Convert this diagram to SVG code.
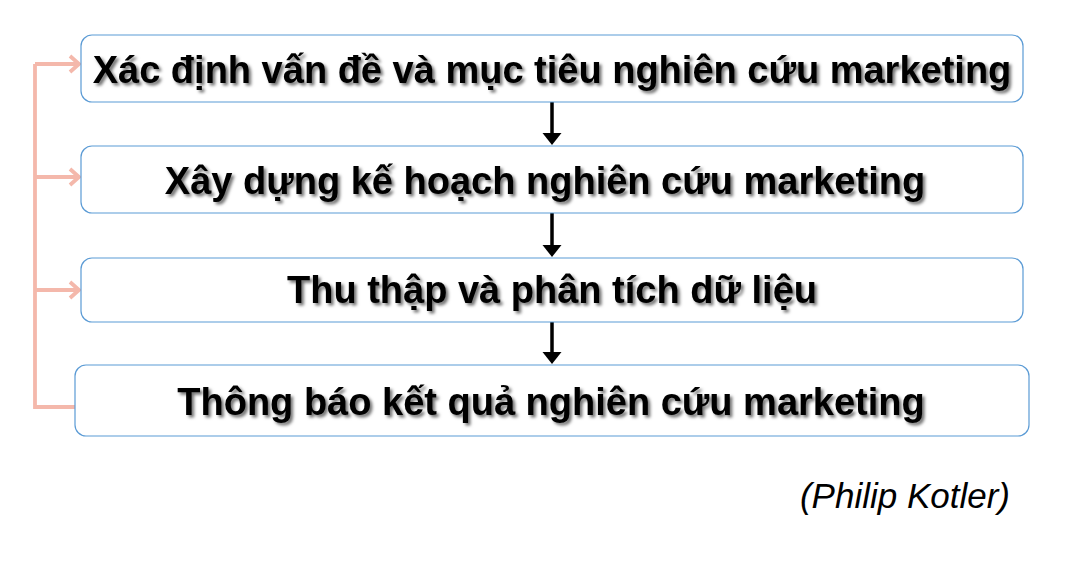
<svg xmlns="http://www.w3.org/2000/svg" width="1066" height="565" viewBox="0 0 1066 565">
<defs>
<filter id="sh" x="-5%" y="-30%" width="110%" height="160%">
<feDropShadow dx="2.5" dy="2.5" stdDeviation="1.5" flood-color="#000" flood-opacity="0.55"/>
</filter>
</defs>
<style>
.box{fill:#fff;stroke:#5B9BD5;stroke-width:1.2}
.t{font-family:"Liberation Sans",Arial,sans-serif;font-weight:bold;font-size:38px;fill:#000;text-anchor:middle}
.fb{fill:none;stroke:#F4B8AB;stroke-width:3.8}
.dn{stroke:#000;stroke-width:3.5;fill:none}
.hd{fill:#000}
</style>
<rect width="1066" height="565" fill="#fff"/>
<g id="connectors">
<path class="fb" d="M35,64 V407 H75"/>
<path class="fb" d="M35,64 H79 M70,56 L79,64 L70,72"/>
<path class="fb" d="M35,177 H79 M70,169 L79,177 L70,185"/>
<path class="fb" d="M35,290 H79 M70,282 L79,290 L70,298"/>
<line class="dn" x1="552" y1="102" x2="552" y2="135"/>
<path class="hd" d="M542.5,133 L561.5,133 L552,145 z"/>
<line class="dn" x1="552" y1="213" x2="552" y2="247"/>
<path class="hd" d="M542.5,245 L561.5,245 L552,257 z"/>
<line class="dn" x1="552" y1="322" x2="552" y2="354"/>
<path class="hd" d="M542.5,352 L561.5,352 L552,364 z"/>
</g>
<g id="n1">
<rect class="box" x="81" y="35" width="942" height="67" rx="11"/>
<text class="t" x="552" y="83" filter="url(#sh)">Xác định vấn đề và mục tiêu nghiên cứu marketing</text>
</g>
<g id="n2">
<rect class="box" x="81" y="146" width="942" height="67" rx="11"/>
<text class="t" x="545" y="194" filter="url(#sh)">Xây dựng kế hoạch nghiên cứu marketing</text>
</g>
<g id="n3">
<rect class="box" x="81" y="258" width="942" height="64" rx="11"/>
<text class="t" x="552" y="303" filter="url(#sh)">Thu thập và phân tích dữ liệu</text>
</g>
<g id="n4">
<rect class="box" x="75" y="365" width="954" height="71" rx="11"/>
<text class="t" x="551" y="415" filter="url(#sh)">Thông báo kết quả nghiên cứu marketing</text>
</g>
<text x="1010" y="508" font-family="Liberation Sans,Arial,sans-serif" font-style="italic" font-size="35" text-anchor="end">(Philip Kotler)</text>
</svg>
